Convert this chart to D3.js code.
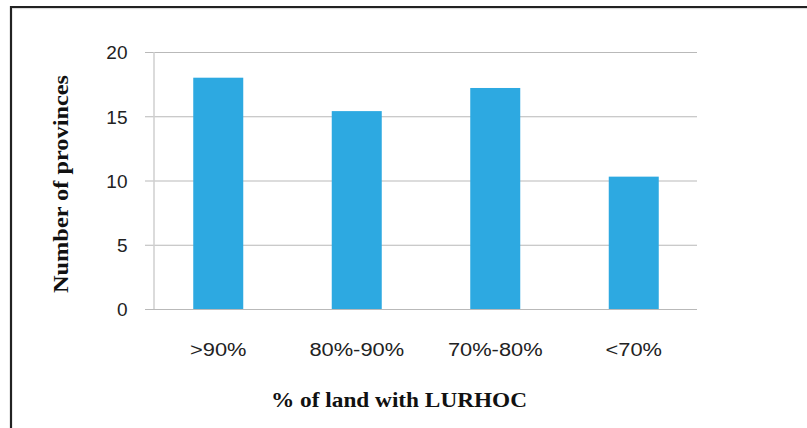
<!DOCTYPE html>
<html>
<head>
<meta charset="utf-8">
<script src="https://cdn.jsdelivr.net/npm/d3@7"></script>
<style>
  html, body { margin: 0; padding: 0; background: #fff; }
  svg { display: block; }
</style>
</head>
<body>
<svg id="chart" width="807" height="428"></svg>
<script>
const categories = [">90%", "80%-90%", "70%-80%", "<70%"];
const values = [18.0, 15.4, 17.2, 10.3];
const yTicks = [0, 5, 10, 15, 20];
const yTitle = "Number of provinces";
const xTitle = "% of land with LURHOC";

const svg = d3.select("#chart");

// outer frame (left + top edges visible)
svg.append("path")
  .attr("d", "M11,428V7H807")
  .attr("fill", "none")
  .attr("stroke", "#222")
  .attr("stroke-width", 2.2);
svg.append("line")
  .attr("x1", 12).attr("x2", 807).attr("y1", 8.6).attr("y2", 8.6)
  .attr("stroke", "#ccc").attr("stroke-width", 0.8);

const plotLeft = 154, plotRight = 697, plotTop = 52, plotBottom = 309;

const y = d3.scaleLinear().domain([0, 20]).range([plotBottom, plotTop]);
const x = d3.scaleBand().domain(categories)
  .range([149, 703]).paddingInner(0.639).paddingOuter(0.3195);

// gridlines + ticks via axis
const yAxis = d3.axisLeft(y).tickValues(yTicks)
  .tickSize(-(plotRight - 145)).tickPadding(0).tickFormat(d3.format("d"));
const gy = svg.append("g").attr("transform", `translate(145,0)`).call(yAxis);
gy.select(".domain").remove();
gy.selectAll(".tick line")
  .attr("stroke", "#b9b9b9").attr("stroke-width", 1.2);
gy.selectAll(".tick text")
  .attr("x", -17.5)
  .attr("dy", "0.36em")
  .attr("fill", "#222")
  .style("font-family", "'Liberation Sans', Arial, sans-serif")
  .style("font-size", "19px");

// y axis line
svg.append("line")
  .attr("x1", plotLeft).attr("x2", plotLeft)
  .attr("y1", y(20)).attr("y2", y(0))
  .attr("stroke", "#cfcfcf").attr("stroke-width", 1.5);

// bars
svg.append("g").selectAll("rect")
  .data(values)
  .join("rect")
  .attr("x", (d, i) => x(categories[i]))
  .attr("width", x.bandwidth())
  .attr("y", d => y(d))
  .attr("height", d => y(0) - y(d))
  .attr("fill", "#2DA9E1");

// x labels
const xAxis = d3.axisBottom(x).tickSize(0).tickPadding(0);
const gx = svg.append("g").attr("transform", `translate(0,${plotBottom})`).call(xAxis);
gx.select(".domain").remove();
gx.selectAll(".tick text")
  .attr("y", 47).attr("dy", 0)
  .attr("transform", "scale(1.15,1)")
  .attr("fill", "#222")
  .style("font-family", "'Liberation Sans', Arial, sans-serif")
  .style("font-size", "19px");

// axis titles
svg.append("text")
  .attr("transform", "translate(67.5,184) rotate(-90)")
  .attr("text-anchor", "middle")
  .attr("fill", "#111")
  .attr("textLength", 218)
  .attr("lengthAdjust", "spacingAndGlyphs")
  .style("font-family", "'Liberation Serif', 'Times New Roman', serif")
  .style("font-weight", "bold")
  .style("font-size", "21px")
  .text(yTitle);

svg.append("text")
  .attr("x", 399).attr("y", 407)
  .attr("text-anchor", "middle")
  .attr("fill", "#111")
  .attr("textLength", 256)
  .attr("lengthAdjust", "spacingAndGlyphs")
  .style("font-family", "'Liberation Serif', 'Times New Roman', serif")
  .style("font-weight", "bold")
  .style("font-size", "21px")
  .text(xTitle);
</script>
</body>
</html>
